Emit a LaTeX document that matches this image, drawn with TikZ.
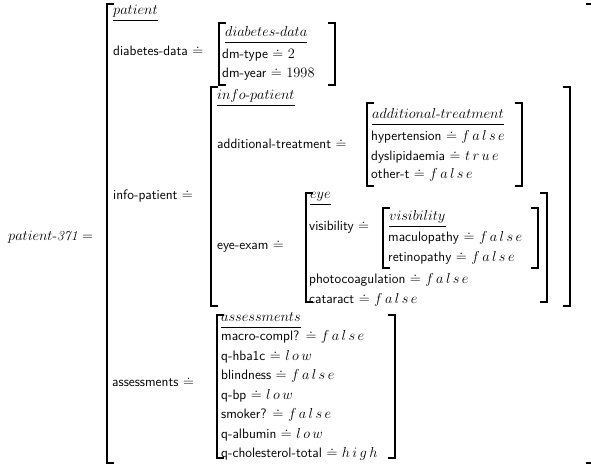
\documentclass[tikz,border=0pt]{standalone}
\usepackage{fontspec}
\usetikzlibrary{positioning}
\newcommand{\avmsize}{\fontsize{13.7}{16.5}\selectfont}
\makeatletter
% values: math italic, letters spread a little
\newcommand{\avmval}[1]{$\@tfor\avmch:=#1\do{\avmch\mkern3mu}$}
\makeatother
% left x, right x, top, bottom
\newcommand{\avmbox}[4]{%
  \draw[brk] (#1+7,#3) -| (#1,#4) -- (#1+7,#4);
  \draw[brk] (#2-7,#3) -| (#2,#4) -- (#2-7,#4);}
\tikzset{
  every picture/.style={x=1pt, y=-1pt},
  attr/.style={anchor=west, inner sep=0pt, text height=9.5pt, text depth=2.7pt, font=\avmsize\sffamily},
  tname/.style={anchor=west, inner sep=0pt, text height=9.5pt, text depth=2.7pt, font=\avmsize\rmfamily},
  brk/.style={line width=1.6pt},
  uline/.style={line width=0.8pt},
}
\begin{document}
\begin{tikzpicture}
  \useasboundingbox (0,0) rectangle (591,468);
  % patient
  \node[tname] (pid) at (8,237) {$patient$-\textit{371} $=$};
  \node[tname] (tpat) at (113,11) {$patient$};
  \node[attr] (adb) at (113,52) {diabetes-data $\doteq$};
  \node[attr] (aip) at (113,196) {info-patient $\doteq$};
  \node[attr] (aas) at (112,383) {assessments $\doteq$};
  \avmbox{107}{593}{4}{463}
  % diabetes-data
  \node[tname] (tdb) at (225,33) {$diabetes$-$data$};
  \node[attr] (adt) at (222,55) {dm-type $\doteq$ $2$};
  \node[attr] (ady) at (222,74) {dm-year $\doteq$ $1998$};
  \avmbox{219}{335}{23}{85}
  % info-patient
  \node[tname] (tip) at (217,96) {$info$-$patient$};
  \node[attr] (aat) at (217,145) {additional-treatment $\doteq$};
  \node[attr] (aee) at (217,246) {eye-exam $\doteq$};
  \avmbox{211}{570}{87}{306}
  % additional-treatment
  \node[tname] (tat) at (372,115) {$additional$-$treatment$};
  \node[attr] (ahyp) at (371,137) {hypertension $\doteq$ \avmval{false}};
  \node[attr] (adys) at (371,157) {dyslipidaemia $\doteq$ \avmval{true}};
  \node[attr] (aoth) at (371,175) {other-t $\doteq$ \avmval{false}};
  \avmbox{367}{522}{103}{186}
  % eye
  \node[tname] (teye) at (310,195) {$eye$};
  \node[attr] (avis) at (309,227) {visibility $\doteq$};
  \node[attr] (apho) at (309,280) {photocoagulation $\doteq$ \avmval{false}};
  \node[attr] (acat) at (309,300) {cataract $\doteq$ \avmval{false}};
  \avmbox{306}{547}{193}{302}
  % visibility
  \node[tname] (tvis) at (389,217) {$visibility$};
  \node[attr] (amac) at (388,238) {maculopathy $\doteq$ \avmval{false}};
  \node[attr] (aret) at (388,258) {retinopathy $\doteq$ \avmval{false}};
  \avmbox{383}{538}{208}{268}
  % assessments
  \node[tname] (tas) at (221,318) {$assessments$};
  \node[attr] (amc) at (221,337) {macro-compl? $\doteq$ \avmval{false}};
  \node[attr] (ahba) at (221,357) {q-hba1c $\doteq$ \avmval{low}};
  \node[attr] (abli) at (221,376) {blindness $\doteq$ \avmval{false}};
  \node[attr] (abp) at (221,396) {q-bp $\doteq$ \avmval{low}};
  \node[attr] (asmo) at (221,415) {smoker? $\doteq$ \avmval{false}};
  \node[attr] (aalb) at (221,435) {q-albumin $\doteq$ \avmval{low}};
  \node[attr] (achol) at (221,454) {q-cholesterol-total $\doteq$ \avmval{high}};
  \avmbox{217}{395}{315}{458}
  % type underlines
  \foreach \t in {tpat, tdb, tip, tat, teye, tvis, tas}
    \draw[uline] ([yshift=-3pt]\t.south west) -- ([yshift=-3pt]\t.south east);
\end{tikzpicture}
\end{document}
